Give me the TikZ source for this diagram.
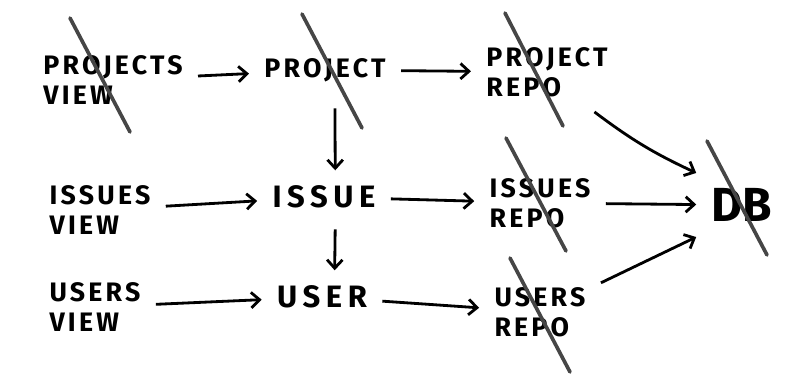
\documentclass[tikz,border=0pt]{standalone}
\usepackage{fontspec}
\setmainfont{Fira Sans}
\usetikzlibrary{arrows.meta,calc,positioning}

\begin{document}
\begin{tikzpicture}[x=0.025cm,y=-0.025cm,
every node/.style={align=left, inner sep=1pt, outer sep=10pt,
  font=\fontsize{19}{21}\selectfont\bfseries\addfontfeatures{LetterSpace=12}},
wide/.style={font=\fontsize{22}{24}\selectfont\bfseries\addfontfeatures{LetterSpace=18}},
flow/.style={-{Straight Barb[length=6pt,width=11pt,line width=2pt]}, line width=2pt},
strike/.style={draw=gray!55!black, line width=2.6pt, line cap=round}]
\useasboundingbox (0,0) rectangle (800,385);
% left column: views
\node (pv) at (113,80) {PROJECTS\\VIEW};
\node (iv) at (100,210) {ISSUES\\VIEW};
\node (uv) at (95,307) {USERS\\VIEW};
% middle column: models
\node (proj) at (325,70) {PROJECT};
\node[wide] (issue) at (324,197) {ISSUE};
\node[wide] (user) at (322,297) {USER};
% right column: repositories
\node (prepo) at (547,72) {PROJECT\\REPO};
\node (irepo) at (540,203) {ISSUES\\REPO};
\node (urepo) at (540,312) {USERS\\REPO};
\node[font=\fontsize{34}{38}\selectfont\bfseries] (db) at (742,205) {DB};
% connectors
\draw[flow] (pv) -- (proj);
\draw[flow] (proj) -- (prepo);
\draw[flow] (iv) -- (issue);
\draw[flow] (issue) -- (irepo);
\draw[flow] (uv) -- (user);
\draw[flow] (user) -- (urepo);
\draw[flow, shorten <=8pt] ([xshift=7pt]proj.south) -- ([xshift=8pt]issue.north);
\draw[flow, shorten <=4pt] ([xshift=8pt]issue.south) -- ([xshift=9pt]user.north);
\draw[flow] (prepo) to[bend right=6] (db.north west);
\draw[flow] (irepo) -- (db);
\draw[flow] (urepo) -- (db.south west);
% crossed out
\draw[strike] ($(pv)+(-43,-62)$) -- ($(pv)+(17,52)$);
\draw[strike] ($(proj)+(-23,-56)$) -- ($(proj)+(37,58)$);
\draw[strike] ($(prepo)+(-42,-59)$) -- ($(prepo)+(16,54)$);
\draw[strike] ($(irepo)+(-34,-65)$) -- ($(irepo)+(26,48)$);
\draw[strike] ($(urepo)+(-30,-54)$) -- ($(urepo)+(30,60)$);
\draw[strike] ($(db)+(-35,-64)$) -- ($(db)+(25,50)$);
\end{tikzpicture}
\end{document}
